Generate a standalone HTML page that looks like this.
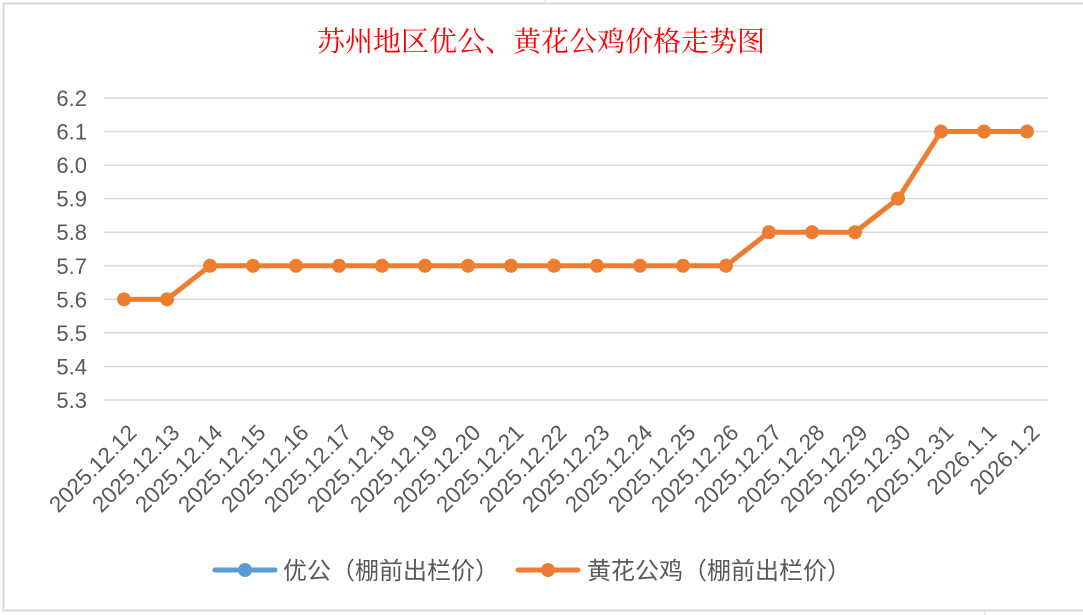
<!DOCTYPE html>
<html><head><meta charset="utf-8"><style>
body{margin:0;background:#fff;}
svg{display:block;}
</style></head><body>
<svg width="1083" height="615" xmlns="http://www.w3.org/2000/svg">
<rect x="0" y="0" width="1083" height="615" fill="#fff"/>
<line x1="545" y1="0" x2="545" y2="4" stroke="#d9d9d9"/>
<line x1="985" y1="611" x2="985" y2="615" stroke="#d9d9d9"/>
<rect x="3.5" y="3.5" width="1090" height="607" fill="#fff" stroke="#d9d9d9" stroke-width="2"/>
<text x="541" y="51" text-anchor="middle" fill="#ff0000" font-family="'Noto Serif CJK SC','Liberation Serif',serif" font-size="28">苏州地区优公、黄花公鸡价格走势图</text>
<g stroke="#d9d9d9" stroke-width="1.5" id="grid"></g>
<g font-family="'Liberation Sans',sans-serif" font-size="22" fill="#595959" text-anchor="end" id="ylab"></g>
<g font-family="'Liberation Sans',sans-serif" font-size="22.5" fill="#595959" id="xlab"></g>
<polyline id="ln" fill="none" stroke="#ed7d31" stroke-width="5" stroke-linejoin="round"/>
<g id="mk" fill="#ed7d31"></g>
<line x1="215" y1="570" x2="275" y2="570" stroke="#5b9bd5" stroke-width="5" stroke-linecap="round"/>
<circle cx="245" cy="570" r="7" fill="#5b9bd5"/>
<text x="283" y="579" font-family="'Liberation Sans','Noto Sans CJK SC',sans-serif" font-size="24" fill="#595959">优公（棚前出栏价）</text>
<line x1="518" y1="570" x2="578" y2="570" stroke="#ed7d31" stroke-width="5" stroke-linecap="round"/>
<circle cx="548" cy="570" r="7" fill="#ed7d31"/>
<text x="587" y="579" font-family="'Liberation Sans','Noto Sans CJK SC',sans-serif" font-size="24" fill="#595959">黄花公鸡（棚前出栏价）</text>
</svg>
<script>
var ns="http://www.w3.org/2000/svg";
function el(t,a,p,txt){var e=document.createElementNS(ns,t);for(var k in a)e.setAttribute(k,a[k]);if(txt)e.textContent=txt;document.getElementById(p).appendChild(e);}
function Y(v){return 98+(6.2-v)/0.1*33.56;}
for(var i=0;i<=9;i++){var v=6.2-i*0.1,y=Y(v);el('line',{x1:104,x2:1048,y1:y,y2:y},'grid');el('text',{x:87,y:y+8},'ylab',v.toFixed(1));}
var lab=["2025.12.12","2025.12.13","2025.12.14","2025.12.15","2025.12.16","2025.12.17","2025.12.18","2025.12.19","2025.12.20","2025.12.21","2025.12.22","2025.12.23","2025.12.24","2025.12.25","2025.12.26","2025.12.27","2025.12.28","2025.12.29","2025.12.30","2025.12.31","2026.1.1","2026.1.2"];
var d=[5.6,5.6,5.7,5.7,5.7,5.7,5.7,5.7,5.7,5.7,5.7,5.7,5.7,5.7,5.7,5.8,5.8,5.8,5.9,6.1,6.1,6.1];
var pts=[];
for(var i=0;i<22;i++){var x=124+i*43,y=Y(d[i]);pts.push(x+","+y);el('circle',{cx:x,cy:y,r:7},'mk');
el('text',{x:0,y:0,'text-anchor':'end',transform:'translate('+(x+14)+',434) rotate(-45)'},'xlab',lab[i]);}
document.getElementById('ln').setAttribute('points',pts.join(' '));
</script>
</body></html>
